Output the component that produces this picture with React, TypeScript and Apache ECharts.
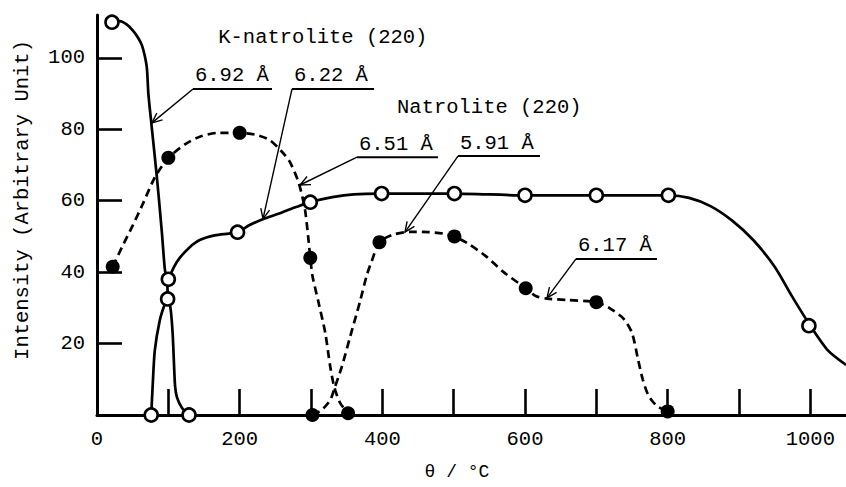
import React, { useEffect, useRef } from "react";
import * as echarts from "echarts";

const FONT = '"Liberation Mono", "DejaVu Sans Mono", monospace';
const FS = 20.5;

// axis ticks / labels
const xTickValues = [100, 200, 300, 400, 500, 600, 700, 800, 900, 1000];
const xLabelValues = [0, 200, 400, 600, 800, 1000];
const yTickValues = [20, 40, 60, 80, 100];

// K-natrolite (220), 6.92 Å : solid, open circles
const kNatroliteCurve = [
  [21, 110], [32, 110.3], [42, 109.3], [51, 107.5], [58, 105.5], [63, 103.5], [67, 100.5],
  [70, 97], [72, 90], [76, 82], [84, 66.5], [91, 51], [95, 41], [98, 37.5], [99.5, 33],
];
const kNatroliteMarks = [[21, 110]];

// small peak near 100 °C : solid, open circles
const peakCurve = [
  [76, 0], [78, 8], [81, 18], [88, 26.5], [95, 31], [99, 32.5], [103, 30], [106, 23],
  [108, 14], [109.5, 8], [112, 5], [119, 2], [129, 0],
];
const peakMarks = [[76, 0], [99, 32.5], [129, 0]];

// Natrolite (220), 6.22 Å : solid, open circles
const natroliteCurve = [
  [100, 38], [108, 41.5], [116, 44], [130, 47], [144, 49], [165, 50.3], [197, 51.2],
  [214, 53.2], [235, 55], [260, 56.8], [280, 58.3], [299, 59.6], [330, 61], [360, 61.8],
  [399, 62], [501, 62], [600, 61.5], [700, 61.5], [801, 61.5], [830, 60.8], [860, 58.5],
  [890, 54.5], [920, 49], [950, 41.5], [975, 33], [1000, 25], [1025, 18], [1050, 14],
];
const natroliteMarks = [
  [100, 38], [197, 51.2], [299, 59.6], [399, 62], [501, 62], [600, 61.5], [700, 61.5],
  [801, 61.5], [998, 25],
];

// 6.51 Å : dashed, filled circles
const phaseACurve = [
  [22, 41.5], [35, 47], [50, 53], [64, 59], [81, 66.5], [100, 72], [125, 76], [145, 78],
  [170, 79], [200, 79], [222, 78.5], [242, 77], [258, 74], [270, 71], [282, 65.5], [288, 61],
  [292, 57], [296, 50], [299, 44], [302, 39], [310, 32], [320, 23], [327, 13.5], [333, 7.5],
  [341, 3.3], [352, 0.5],
];
const phaseAMarks = [[22, 41.5], [100, 72], [200, 79], [299, 44], [352, 0.5]];

// 5.91 Å / 6.17 Å : dashed, filled circles
const phaseBCurve = [
  [302, 0], [315, 1.4], [327, 4.2], [333, 7.5], [343, 13.4], [355, 22], [369, 32], [378, 39],
  [385, 43], [396, 48.4], [415, 50.5], [440, 51.3], [465, 51.2], [485, 50.8], [501, 50],
  [520, 48], [545, 44.5], [570, 40], [601, 35.5], [615, 33.3], [631, 32.6], [660, 32.2],
  [700, 31.6], [718, 30], [738, 27], [750, 23], [758, 16], [765, 10], [773, 5.5], [785, 2.5],
  [800, 1],
];
const phaseBMarks = [[302, 0], [396, 48.4], [501, 50], [601, 35.5], [700, 31.6], [800, 1]];

// annotations (data coordinates)
const annotTexts = ["6.92 Å", "6.22 Å", "6.51 Å", "5.91 Å", "6.17 Å"];
const annotUnderlineStart = [[134.6, 91.3], [273.4, 91.3], [364.5, 72.2], [506, 72.5], [671.5, 43.7]];
const annotUnderlineEndX = [245.3, 388.4, 478, 621, 785];
const annotTips = [[77, 81.8], [232.7, 54.9], [284.6, 64.4], [431.8, 51.2], [630.9, 32.8]];

const titleTexts = ["K-natrolite (220)", "Natrolite (220)"];
const titlePos = [[170, 105.6], [420.6, 86.2]];

function lineSeries(data: number[][], dashed: boolean) {
  return {
    type: "line",
    data,
    symbol: "none",
    showSymbol: false,
    smooth: 0.25,
    clip: false,
    z: 2,
    lineStyle: { color: "#000", width: 2.7, type: dashed ? [8, 5] : "solid" },
    silent: true,
  };
}

function markSeries(data: number[][], filled: boolean) {
  return {
    type: "scatter",
    data,
    symbol: "circle",
    symbolSize: filled ? 14 : 13,
    clip: false,
    z: 3,
    itemStyle: filled
      ? { color: "#000", borderColor: "#000", borderWidth: 0, opacity: 1 }
      : { color: "#fff", borderColor: "#000", borderWidth: 2.6, opacity: 1 },
    silent: true,
  };
}

export default function App() {
  const ref = useRef<HTMLDivElement>(null);

  useEffect(() => {
    if (!ref.current) return;
    const chart = echarts.init(ref.current, undefined, { renderer: "svg" });
    const axisLineStyle = { color: "#000", width: 3 };
    chart.setOption({
      animation: false,
      backgroundColor: "#fff",
      grid: { left: 97, right: 0, top: 15, bottom: 72 },
      xAxis: {
        type: "value",
        min: 0,
        max: 1050,
        axisLine: { show: true, lineStyle: axisLineStyle },
        axisTick: {
          show: true,
          inside: true,
          length: 26,
          customValues: xTickValues,
          lineStyle: { color: "#000", width: 2.6 },
        },
        axisLabel: {
          customValues: xLabelValues,
          formatter: (v: number) => String(v),
          margin: 14,
          color: "#000",
          fontFamily: FONT,
          fontSize: FS,
        },
        splitLine: { show: false },
      },
      yAxis: {
        type: "value",
        min: 0,
        max: 112,
        axisLine: { show: true, lineStyle: axisLineStyle },
        axisTick: {
          show: true,
          inside: true,
          length: 25,
          customValues: yTickValues,
          lineStyle: { color: "#000", width: 2.6 },
        },
        axisLabel: {
          customValues: yTickValues,
          formatter: (v: number) => String(v),
          margin: 12,
          color: "#000",
          fontFamily: FONT,
          fontSize: FS,
        },
        splitLine: { show: false },
      },
      series: [
        lineSeries(kNatroliteCurve, false),
        lineSeries(peakCurve, false),
        lineSeries(natroliteCurve, false),
        lineSeries(phaseACurve, true),
        lineSeries(phaseBCurve, true),
        markSeries(kNatroliteMarks, false),
        markSeries(peakMarks, false),
        markSeries(natroliteMarks, false),
        markSeries(phaseAMarks, true),
        markSeries(phaseBMarks, true),
      ],
    });

    const toPx = (p: number[]) => chart.convertToPixel({ gridIndex: 0 }, p) as number[];
    const textStyle = (text: string, align: string, vAlign: string, size = FS) => ({
      text,
      fontFamily: FONT,
      fontSize: size,
      fill: "#000",
      align,
      textAlign: align,
      verticalAlign: vAlign,
      textVerticalAlign: vAlign,
    });

    const graphics: any[] = [];
    annotTexts.forEach((t, i) => {
      const s = toPx(annotUnderlineStart[i]);
      const e = toPx([annotUnderlineEndX[i], annotUnderlineStart[i][1]]);
      const tip = toPx(annotTips[i]);
      graphics.push({
        type: "text",
        x: s[0] + 2,
        y: s[1] - 13,
        style: textStyle(t, "left", "middle"),
        z: 10,
      });
      graphics.push({
        type: "line",
        shape: { x1: s[0], y1: s[1], x2: e[0], y2: s[1] },
        style: { stroke: "#000", lineWidth: 2 },
        z: 10,
      });
      graphics.push({
        type: "line",
        shape: { x1: s[0], y1: s[1], x2: tip[0], y2: tip[1] },
        style: { stroke: "#000", lineWidth: 1.4 },
        z: 10,
      });
      const dx = tip[0] - s[0];
      const dy = tip[1] - s[1];
      const len = Math.sqrt(dx * dx + dy * dy);
      const ux = dx / len;
      const uy = dy / len;
      const ang = (24 * Math.PI) / 180;
      const L = 11;
      const arm = (a: number) => [
        tip[0] - L * (ux * Math.cos(a) - uy * Math.sin(a)),
        tip[1] - L * (ux * Math.sin(a) + uy * Math.cos(a)),
      ];
      graphics.push({
        type: "polyline",
        shape: { points: [arm(ang), tip, arm(-ang)] },
        style: { stroke: "#000", lineWidth: 1.4, fill: null },
        z: 10,
      });
    });
    titleTexts.forEach((t, i) => {
      const p = toPx(titlePos[i]);
      graphics.push({
        type: "text",
        x: p[0],
        y: p[1],
        style: textStyle(t, "left", "middle"),
        z: 10,
      });
    });
    graphics.push({
      type: "text",
      x: 22,
      y: 200,
      rotation: Math.PI / 2,
      style: textStyle("Intensity (Arbitrary Unit)", "center", "middle"),
      z: 10,
    });
    graphics.push({
      type: "text",
      x: 457,
      y: 472,
      style: textStyle("θ / °C", "center", "middle", 18),
      z: 10,
    });
    chart.setOption({ graphic: graphics });

    return () => chart.dispose();
  }, []);

  return (
    <div
      ref={ref}
      style={{ position: "fixed", left: 0, top: 0, width: 846, height: 487, background: "#fff" }}
    />
  );
}
